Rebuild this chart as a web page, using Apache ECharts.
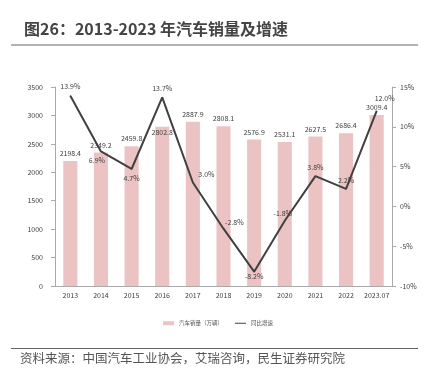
<!DOCTYPE html>
<html>
<head>
<meta charset="utf-8">
<script src="https://cdn.jsdelivr.net/npm/echarts@6/dist/echarts.min.js"></script>
<style>
  html, body { margin: 0; padding: 0; background: #fff; }
  #chart { width: 436px; height: 375px; }
</style>
</head>
<body>
<div id="chart"></div>
<script>
var years = ["2013", "2014", "2015", "2016", "2017", "2018", "2019", "2020", "2021", "2022", "2023.07"];
var sales = [2198.4, 2349.2, 2459.8, 2802.8, 2887.9, 2808.1, 2576.9, 2531.1, 2627.5, 2686.4, 3009.4];
var growth = [13.9, 6.9, 4.7, 13.7, 3.0, -2.8, -8.2, -1.8, 3.8, 2.2, 12.0];

var font = "'Noto Sans CJK SC', 'Noto Sans', sans-serif";

// where each growth label sits relative to its point
var growthLabelPos = [
  { position: "top" },
  { position: "bottom", offset: [-4, 0] },
  { position: "bottom" },
  { position: "top" },
  { position: "right", offset: [0, -8] },
  { position: "right", offset: [-4, -6] },
  { position: "bottom", offset: [0, -4] },
  { position: "top", offset: [-2, 2] },
  { position: "top" },
  { position: "top" },
  { position: "top", offset: [8, -4] }
];

var chart = echarts.init(document.getElementById("chart"));

var barData = sales.map(function (v, i) {
  if (i === 3) {
    return { value: v, label: { position: "insideTop", offset: [0, -2] } };
  }
  return v;
});

var lineData = growth.map(function (v, i) {
  return { value: v, label: growthLabelPos[i] };
});

chart.setOption({
  animation: false,
  textStyle: { fontFamily: font },
  title: {
    text: "图26：2013-2023 年汽车销量及增速",
    left: 19,
    top: 16,
    textStyle: { fontSize: 16, fontWeight: "bold", color: "#444", fontFamily: font }
  },
  graphic: [
    { type: "line", shape: { x1: 11, y1: 45, x2: 418, y2: 45 }, style: { stroke: "#666", lineWidth: 1.2 } },
    { type: "line", shape: { x1: 11, y1: 348.5, x2: 418, y2: 348.5 }, style: { stroke: "#666", lineWidth: 1.2 } },
    {
      type: "text", left: 20, top: 352,
      style: { text: "资料来源：中国汽车工业协会，艾瑞咨询，民生证券研究院", fontSize: 12.5, fill: "#555", fontFamily: font }
    }
  ],
  legend: {
    bottom: 44,
    left: "center",
    itemWidth: 11,
    itemHeight: 4,
    itemGap: 12,
    textStyle: { fontSize: 5.5, color: "#555" },
    data: [
      { name: "汽车销量（万辆）", icon: "rect" },
      { name: "同比增速", icon: "path://M0,0 L0,0.1 L11,0.1 L11,0 Z M0,1.5 L11,1.5 L11,2.6 L0,2.6 Z M0,4 L0,3.9 L11,3.9 L11,4 Z", itemStyle: { color: "#404040" } }
    ]
  },
  grid: { left: 55, right: 44, top: 87, bottom: 89 },
  xAxis: {
    type: "category",
    data: years,
    axisLine: { lineStyle: { color: "#aaa" } },
    axisTick: { show: false },
    axisLabel: { fontSize: 7, color: "#404040", margin: 6, interval: 0 }
  },
  yAxis: [
    {
      type: "value", min: 0, max: 3500, interval: 500,
      axisLine: { show: true, lineStyle: { color: "#aaa" } },
      axisTick: { show: true, length: 4, lineStyle: { color: "#aaa" } },
      splitLine: { show: false },
      axisLabel: { fontSize: 7, color: "#404040", margin: 12, formatter: function (v) { return String(v); } }
    },
    {
      type: "value", min: -10, max: 15, interval: 5,
      axisLine: { show: true, lineStyle: { color: "#aaa" } },
      axisTick: { show: true, length: 4, lineStyle: { color: "#aaa" } },
      splitLine: { show: false },
      axisLabel: { fontSize: 7, color: "#404040", margin: 8, formatter: "{value}%" }
    }
  ],
  series: [
    {
      name: "汽车销量（万辆）",
      type: "bar",
      data: barData,
      barWidth: "46%",
      itemStyle: { color: "#ebc3c3" },
      label: { show: true, position: "top", distance: 4, fontSize: 7, color: "#404040", formatter: function (p) { return p.value.toFixed(1); } }
    },
    {
      name: "同比增速",
      type: "line",
      yAxisIndex: 1,
      data: lineData,
      symbol: "circle",
      symbolSize: 1,
      showSymbol: true,
      lineStyle: { color: "#404040", width: 2 },
      itemStyle: { color: "#404040" },
      label: { show: true, fontSize: 7, color: "#404040", formatter: function (p) { return p.value.toFixed(1) + "%"; } }
    }
  ]
});
</script>
</body>
</html>
